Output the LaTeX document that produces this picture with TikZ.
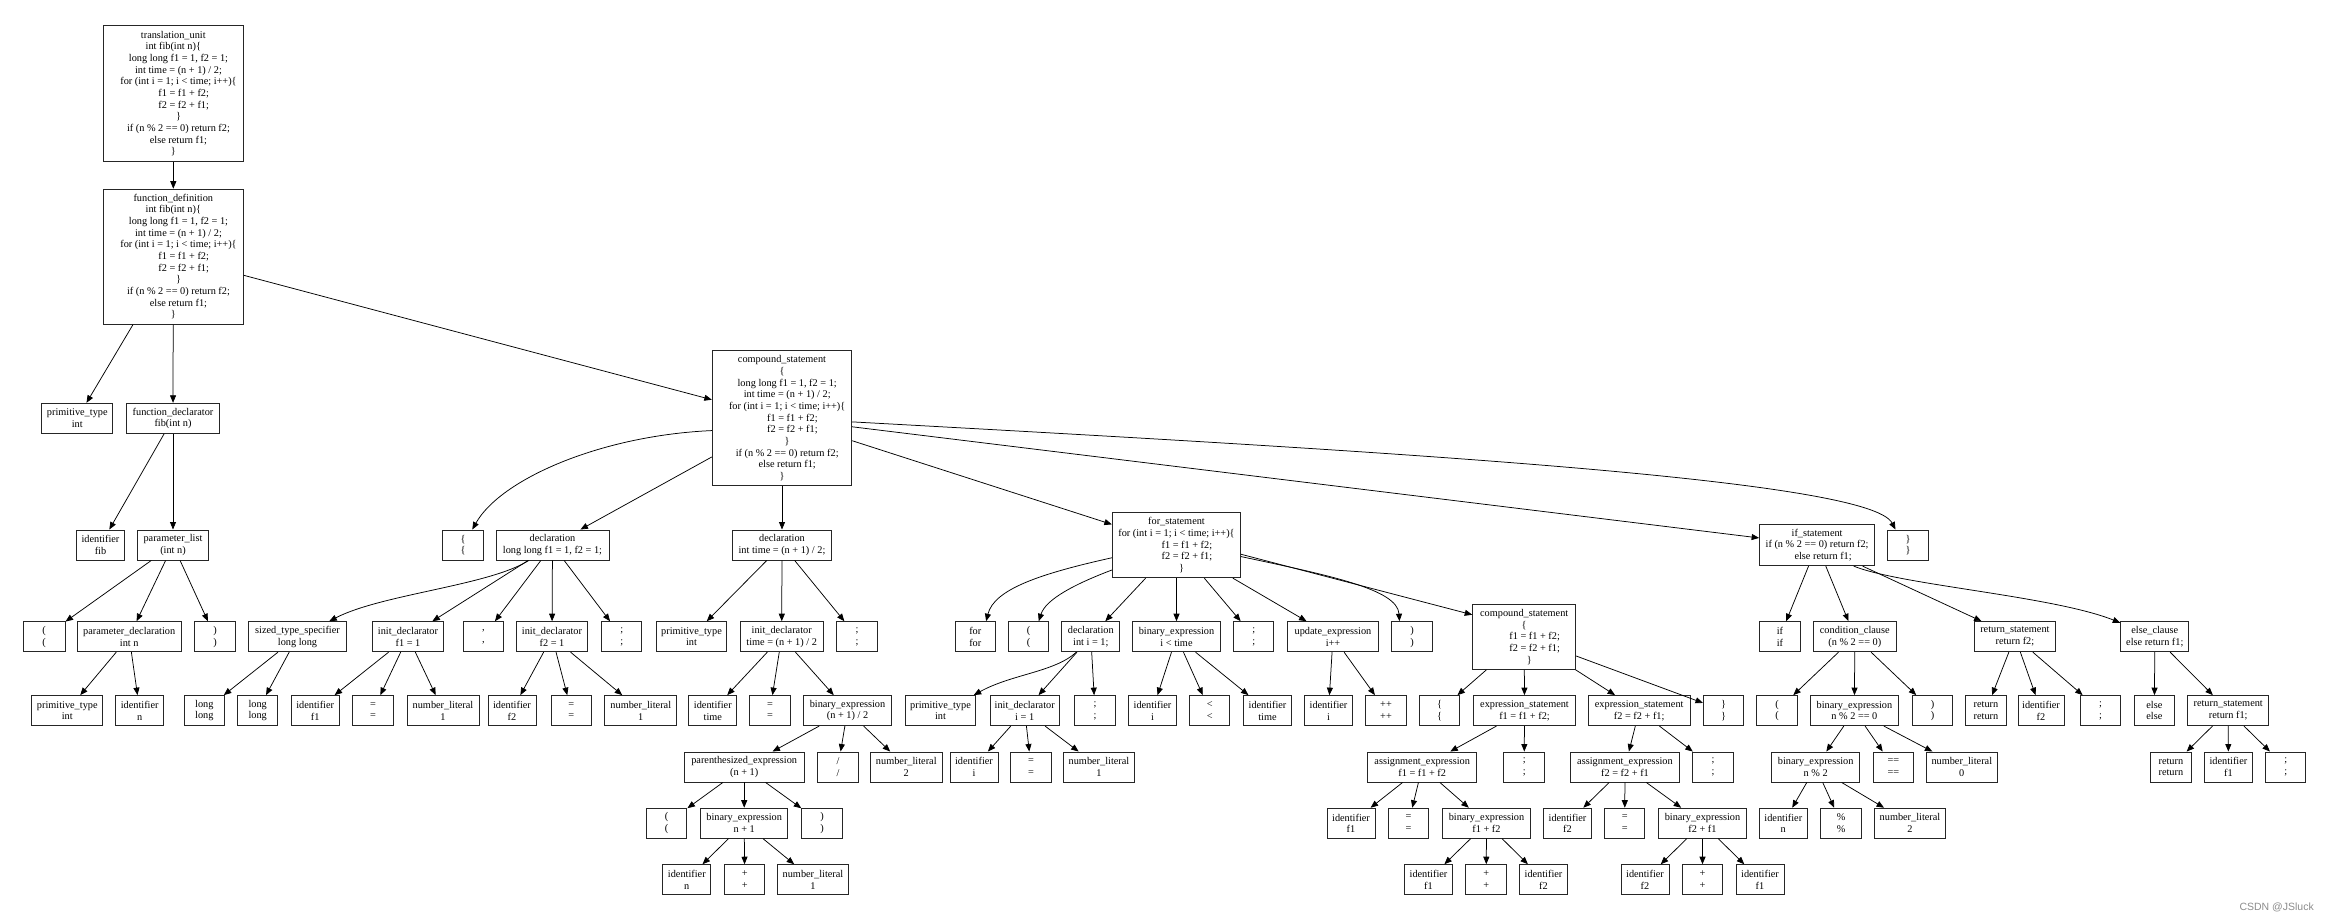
\documentclass[tikz,border=0pt]{standalone}
\usepackage{fontspec}
\setmainfont{Liberation Serif}
\newfontfamily\wmfont{Liberation Sans}
\usetikzlibrary{arrows.meta}
\newcommand{\nodefont}{\fontsize{10.3}{11.67}\selectfont}
\newcommand{\indA}{\hspace*{10.4pt}}
\newcommand{\indB}{\hspace*{20.8pt}}
\begin{document}
\begin{tikzpicture}[x=1pt,y=-1pt,
  bx/.style={draw=black!85, line width=0.95pt, rectangle, align=center, inner xsep=2pt, inner ysep=0pt,
             minimum width=40.5pt, minimum height=30pt, font=\nodefont},
  mw/.style={minimum width=#1pt},
  mh/.style={minimum height=#1pt},
  e/.style={-{Triangle[length=7.5pt,width=6pt]}, line width=0.75pt, draw=black},
]
\fill[white] (0,0) rectangle (2330,921);
\useasboundingbox (0,0) rectangle (2330,921);

% ---------- level 0 / 1 ----------
\node[bx, mw=140, mh=136] (tu) at (173.3,93.7) {translation\_unit\\int fib(int n)\{\\\indA long long f1 = 1, f2 = 1;\\\indA int time = (n + 1) / 2;\\\indA for (int i = 1; i < time; i++)\{\\\indB f1 = f1 + f2;\\\indB f2 = f2 + f1;\\\indA\}\\\indA if (n \% 2 == 0) return f2;\\\indA else return f1;\\\}};
\node[bx, mw=140, mh=135] (fd) at (173.3,256.7) {function\_definition\\int fib(int n)\{\\\indA long long f1 = 1, f2 = 1;\\\indA int time = (n + 1) / 2;\\\indA for (int i = 1; i < time; i++)\{\\\indB f1 = f1 + f2;\\\indB f2 = f2 + f1;\\\indA\}\\\indA if (n \% 2 == 0) return f2;\\\indA else return f1;\\\}};

% ---------- level 2 ----------
\node[bx, mw=70.7] (pt1) at (77.3,418.3) {primitive\_type\\int};
\node[bx, mw=92.6] (fdecl) at (173,418.3) {function\_declarator\\fib(int n)};
\node[bx, mw=139.4, mh=135] (cs) at (782,418.2) {compound\_statement\\\{\\\indA long long f1 = 1, f2 = 1;\\\indA int time = (n + 1) / 2;\\\indA for (int i = 1; i < time; i++)\{\\\indB f1 = f1 + f2;\\\indB f2 = f2 + f1;\\\indA\}\\\indA if (n \% 2 == 0) return f2;\\\indA else return f1;\\\}};

% ---------- level 3 ----------
\node[bx, mw=48] (idfib) at (100.5,545) {identifier\\fib};
\node[bx, mw=70.6] (plist) at (173,545) {parameter\_list\\(int n)};
\node[bx] (lb1) at (463,545) {\{\\\{};
\node[bx, mw=113] (decl1) at (552.5,545) {declaration\\long long f1 = 1, f2 = 1;};
\node[bx, mw=99.4] (decl2) at (782,545) {declaration\\int time = (n + 1) / 2;};
\node[bx, mw=128.3, mh=65] (fs) at (1176.5,545.2) {for\_statement\\for (int i = 1; i < time; i++)\{\\\indB f1 = f1 + f2;\\\indB f2 = f2 + f1;\\\indA\}};
\node[bx, mw=115, mh=41.3] (ifs) at (1817.1,545) {if\_statement\\if (n \% 2 == 0) return f2;\\\hspace*{12pt}else return f1;};
\node[bx] (rb1) at (1908,545) {\}\\\}};

% ---------- level 4 ----------
\node[bx, mw=41.7] (lp1) at (44.2,636.7) {(\\(};
\node[bx, mw=103.7] (pdecl) at (129.2,636.7) {parameter\_declaration\\int n};
\node[bx] (rp1) at (215,636.7) {)\\)};
\node[bx, mw=98.3] (sts) at (297.5,636.7) {sized\_type\_specifier\\long long};
\node[bx, mw=70.7] (id1) at (408,636.7) {init\_declarator\\f1 = 1};
\node[bx] (comma) at (483.3,636.7) {,\\,};
\node[bx, mw=70.7] (id2) at (552,636.7) {init\_declarator\\f2 = 1};
\node[bx] (semi1) at (621.7,636.7) {;\\;};
\node[bx, mw=70.7] (pt2) at (691.5,636.7) {primitive\_type\\int};
\node[bx, mw=83.3] (id3) at (781.7,636.7) {init\_declarator\\time = (n + 1) / 2};
\node[bx] (semi2) at (857,636.7) {;\\;};
\node[bx] (kwfor) at (975.3,636.7) {for\\for};
\node[bx] (lp2) at (1028.7,636.7) {(\\(};
\node[bx, mw=58.3] (decl3) at (1090.8,636.7) {declaration\\int i = 1;};
\node[bx, mw=88.3] (be1) at (1176.5,636.7) {binary\_expression\\i < time};
\node[bx] (semi3) at (1253.7,636.7) {;\\;};
\node[bx, mw=90.7] (upd) at (1333,636.7) {update\_expression\\i++};
\node[bx] (rp2) at (1412,636.7) {)\\)};
\node[bx, mw=103, mh=65] (cs2) at (1524.2,636.8) {compound\_statement\\\{\\\indB f1 = f1 + f2;\\\indB f2 = f2 + f1;\\\indA\}};
\node[bx] (kwif) at (1779.9,636.7) {if\\if};
\node[bx, mw=82.7] (cond) at (1854.8,636.7) {condition\_clause\\(n \% 2 == 0)};
\node[bx, mw=80.9] (ret1) at (2014.9,636.7) {return\_statement\\return f2;};
\node[bx, mw=68.1] (else1) at (2154.8,636.7) {else\_clause\\else return f1;};

% ---------- level 5 ----------
\node[bx, mw=70.7] (pt3) at (67.3,710.6) {primitive\_type\\int};
\node[bx, mw=48] (idn1) at (139.7,710.6) {identifier\\n};
\node[bx] (long1) at (204.3,710.6) {long\\long};
\node[bx] (long2) at (257.7,710.6) {long\\long};
\node[bx, mw=48] (idf1) at (315.2,710.6) {identifier\\f1};
\node[bx] (eq1) at (373,710.6) {=\\=};
\node[bx, mw=72] (num1) at (443,710.6) {number\_literal\\1};
\node[bx, mw=48] (idf2) at (512,710.6) {identifier\\f2};
\node[bx] (eq2) at (571.3,710.6) {=\\=};
\node[bx, mw=72] (num2) at (640.8,710.6) {number\_literal\\1};
\node[bx, mw=48] (idtime) at (712.8,710.6) {identifier\\time};
\node[bx] (eq3) at (770,710.6) {=\\=};
\node[bx, mw=88.3] (be2) at (847.5,710.6) {binary\_expression\\(n + 1) / 2};
\node[bx, mw=70.7] (pt4) at (940.5,710.6) {primitive\_type\\int};
\node[bx, mw=69.3] (id4) at (1024.7,710.6) {init\_declarator\\i = 1};
\node[bx] (semi4) at (1095,710.6) {;\\;};
\node[bx, mw=48] (idi1) at (1152.5,710.6) {identifier\\i};
\node[bx] (lt) at (1209.7,710.6) {<\\<};
\node[bx, mw=48] (idtime2) at (1267.5,710.6) {identifier\\time};
\node[bx, mw=48] (idi2) at (1328.5,710.6) {identifier\\i};
\node[bx] (pp) at (1386,710.6) {++\\++};
\node[bx] (lb2) at (1439.7,710.6) {\{\\\{};
\node[bx, mw=102.3] (es1) at (1524.5,710.6) {expression\_statement\\f1 = f1 + f2;};
\node[bx, mw=101.7] (es2) at (1639.2,710.6) {expression\_statement\\f2 = f2 + f1;};
\node[bx] (rb2) at (1723.7,710.6) {\}\\\}};
\node[bx] (lp3) at (1777,710.6) {(\\(};
\node[bx, mw=87.3] (be3) at (1854.4,710.6) {binary\_expression\\n \% 2 == 0};
\node[bx] (rp3) at (1932.5,710.6) {)\\)};
\node[bx] (kwret1) at (1986,710.6) {return\\return};
\node[bx, mw=46] (idf2b) at (2041,710.6) {identifier\\f2};
\node[bx] (semi5) at (2100.6,710.6) {;\\;};
\node[bx] (kwelse) at (2154.4,710.6) {else\\else};
\node[bx, mw=80.9] (ret2) at (2228.2,710.6) {return\_statement\\return f1;};

% ---------- level 6 ----------
\node[bx, mw=119.7] (paren) at (744.2,767) {parenthesized\_expression\\(n + 1)};
\node[bx] (slash) at (838,767) {/\\/};
\node[bx, mw=71.5] (num3) at (906.3,767) {number\_literal\\2};
\node[bx, mw=48] (idi3) at (974,767) {identifier\\i};
\node[bx] (eq4) at (1031,767) {=\\=};
\node[bx, mw=71.5] (num4) at (1099,767) {number\_literal\\1};
\node[bx, mw=109] (ae1) at (1422.2,767) {assignment\_expression\\f1 = f1 + f2};
\node[bx] (semi6) at (1524.2,767) {;\\;};
\node[bx, mw=108.6] (ae2) at (1625,767) {assignment\_expression\\f2 = f2 + f1};
\node[bx] (semi7) at (1713,767) {;\\;};
\node[bx, mw=88.3] (be4) at (1815.7,767) {binary\_expression\\n \% 2};
\node[bx] (eqeq) at (1893.4,767) {==\\==};
\node[bx, mw=71.5] (num5) at (1961.8,767) {number\_literal\\0};
\node[bx] (kwret2) at (2170.9,767) {return\\return};
\node[bx, mw=48] (idf1c) at (2228.4,767) {identifier\\f1};
\node[bx] (semi8) at (2285.7,767) {;\\;};

% ---------- level 7 ----------
\node[bx] (lp4) at (666.7,823.2) {(\\(};
\node[bx, mw=87] (be5) at (744.2,823.2) {binary\_expression\\n + 1};
\node[bx] (rp4) at (822,823.2) {)\\)};
\node[bx, mw=48] (idf1d) at (1351,823.2) {identifier\\f1};
\node[bx] (eq5) at (1408.5,823.2) {=\\=};
\node[bx, mw=88.3] (be6) at (1486.5,823.2) {binary\_expression\\f1 + f2};
\node[bx, mw=48] (idf2d) at (1567.5,823.2) {identifier\\f2};
\node[bx] (eq6) at (1624.7,823.2) {=\\=};
\node[bx, mw=88.3] (be7) at (1702.5,823.2) {binary\_expression\\f2 + f1};
\node[bx, mw=48] (idn2) at (1783.3,823.2) {identifier\\n};
\node[bx] (pct) at (1841.2,823.2) {\%\\\%};
\node[bx, mw=71.5] (num6) at (1910,823.2) {number\_literal\\2};

% ---------- level 8 ----------
\node[bx, mw=48] (idn3) at (686.8,879.7) {identifier\\n};
\node[bx] (plus1) at (744.7,879.7) {+\\+};
\node[bx, mw=71.5] (num7) at (813,879.7) {number\_literal\\1};
\node[bx, mw=48] (idf1e) at (1428.5,879.7) {identifier\\f1};
\node[bx] (plus2) at (1486.2,879.7) {+\\+};
\node[bx, mw=48] (idf2e) at (1543.5,879.7) {identifier\\f2};
\node[bx, mw=48] (idf2f) at (1645,879.7) {identifier\\f2};
\node[bx] (plus3) at (1702.5,879.7) {+\\+};
\node[bx, mw=48] (idf1f) at (1760,879.7) {identifier\\f1};

% ---------- straight connectors ----------
\foreach \a/\b in {tu/fd, fd/pt1, fd/fdecl, fd/cs, fdecl/idfib, fdecl/plist,
  plist/lp1, plist/pdecl, plist/rp1, pdecl/pt3, pdecl/idn1,
  cs/decl1, cs/decl2, cs/fs, cs/ifs,
  decl1/id1, decl1/comma, decl1/id2, decl1/semi1,
  sts/long1, sts/long2,
  id1/idf1, id1/eq1, id1/num1, id2/idf2, id2/eq2, id2/num2,
  decl2/pt2, decl2/id3, decl2/semi2,
  id3/idtime, id3/eq3, id3/be2,
  be2/paren, be2/slash, be2/num3,
  paren/lp4, paren/be5, paren/rp4,
  be5/idn3, be5/plus1, be5/num7,
  fs/decl3, fs/be1, fs/semi3, fs/upd,
  decl3/id4, decl3/semi4,
  id4/idi3, id4/eq4, id4/num4,
  be1/idi1, be1/lt, be1/idtime2,
  upd/idi2, upd/pp,
  cs2/lb2, cs2/es1, cs2/es2, cs2/rb2,
  es1/ae1, es1/semi6, ae1/idf1d, ae1/eq5, ae1/be6, be6/idf1e, be6/plus2, be6/idf2e,
  es2/ae2, es2/semi7, ae2/idf2d, ae2/eq6, ae2/be7, be7/idf2f, be7/plus3, be7/idf1f,
  ifs/kwif, ifs/cond, ifs/ret1,
  cond/lp3, cond/be3, cond/rp3,
  be3/be4, be3/eqeq, be3/num5,
  be4/idn2, be4/pct, be4/num6,
  ret1/kwret1, ret1/idf2b, ret1/semi5,
  else1/kwelse, else1/ret2,
  ret2/kwret2, ret2/idf1c, ret2/semi8}
  \draw[e] (\a) -- (\b);

% ---------- curved connectors ----------
\draw[e] (cs.190) .. controls +(-112,5) and +(28,-50) .. (lb1.59);
\draw[e] (cs.-3) .. controls +(548,30) and +(-26,-50) .. (rb1.129);
\draw[e] (decl1.213) .. controls +(-39,25) and +(52,-27) .. (sts.26);
\draw[e] (fs.191) .. controls +(-72,16) and +(8,-32) .. (kwfor.55);
\draw[e] (fs.201) .. controls +(-37,14) and +(7,-22) .. (lp2.57);
\draw[e] (fs.-10) .. controls +(89,19) and +(-2,-32) .. (rp2.129);
\draw[e] (fs.-8) -- (cs2.157);
\draw[e] (decl3.227) .. controls +(-22,20) and +(38,-21) .. (pt4.25);
\draw[e] (ifs.-30) .. controls +(47,19) and +(-68,-27) .. (else1.158);

% ---------- watermark ----------
\node[font=\wmfont\fontsize{10.5}{12}\selectfont, text=black!45, anchor=base east, inner sep=0pt] (wm) at (2314,910) {CSDN @JSluck};
\end{tikzpicture}
\end{document}
